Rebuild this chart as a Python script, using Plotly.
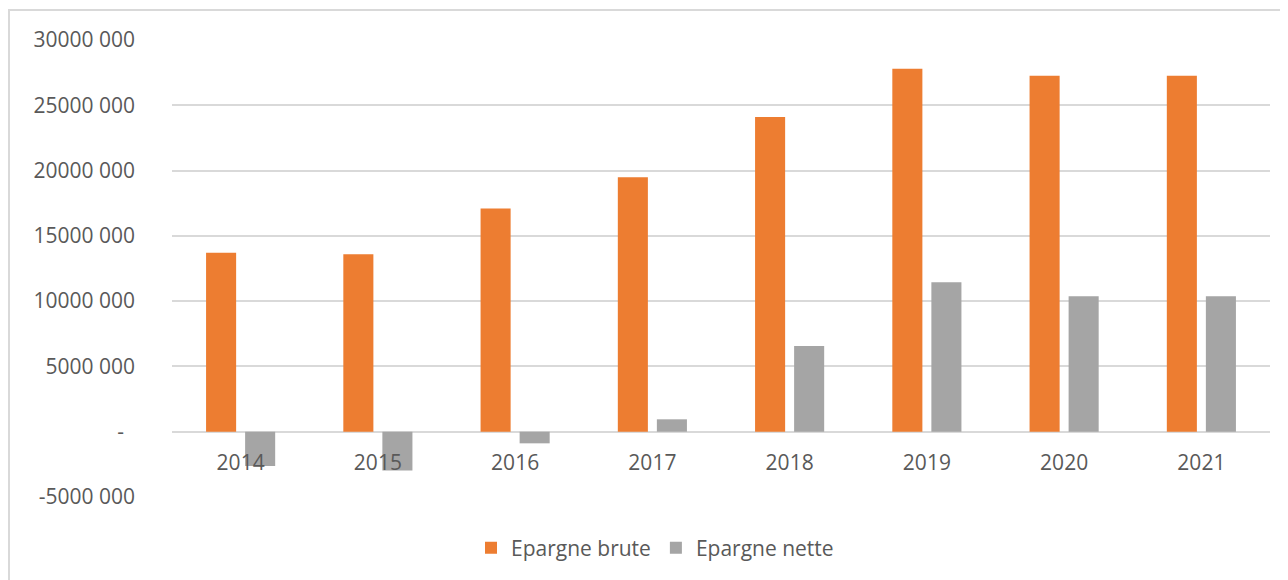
import plotly.graph_objects as go

years = ["2014", "2015", "2016", "2017", "2018", "2019", "2020", "2021"]
epargne_brute = [13710000, 13600000, 17100000, 19480000, 24100000, 27800000, 27270000, 27270000]
epargne_nette = [-2630000, -2970000, -890000, 950000, 6560000, 11450000, 10380000, 10380000]

y_min, y_max, y_step = -5000000, 30000000, 5000000
tick_vals = list(range(y_min, y_max + 1, y_step))


def fmt(v):
    if v == 0:
        return "-\u00a0\u00a0"
    s = str(abs(v))
    txt = s[:-3] + " " + s[-3:]
    return ("-" if v < 0 else "") + txt


tick_text = [fmt(v) for v in tick_vals]

orange = "#ED7D31"
grey = "#A5A5A5"
text_col = "#595959"
grid_col = "#D9D9D9"
FONT = "Open Sans"

fig = go.Figure()
fig.add_trace(go.Bar(name="Epargne brute", x=years, y=epargne_brute,
                     marker=dict(color=orange, line=dict(width=0))))
fig.add_trace(go.Bar(name="Epargne nette", x=years, y=epargne_nette,
                     marker=dict(color=grey, line=dict(width=0))))

# the page body adds an 8px offset; layout is expressed in figure pixels
W, H = 1288, 580
ml, mt = 164, 32
pw, ph = 1098, 457
mr, mb = W - ml - pw, H - mt - ph

fig.update_layout(
    width=W, height=H,
    margin=dict(l=ml, r=mr, t=mt, b=mb, pad=0),
    paper_bgcolor="white", plot_bgcolor="white",
    barmode="group", bargap=0.431, bargroupgap=0.23,
    font=dict(family=FONT, color=text_col, size=21),
    showlegend=True,
    legend=dict(orientation="h", x=(647 - ml) / pw, xanchor="center",
                y=-(540 - (mt + ph)) / ph, yanchor="middle",
                font=dict(size=21, color=text_col, family=FONT),
                itemwidth=30, traceorder="normal", bgcolor="rgba(0,0,0,0)"),
    xaxis=dict(
        type="category", showgrid=False, zeroline=False, showline=False,
        anchor="free", position=(0 - y_min) / (y_max - y_min),
        ticks="outside", ticklen=12, tickcolor="rgba(0,0,0,0)",
        tickfont=dict(size=21, color=text_col, family=FONT),
    ),
    yaxis=dict(
        range=[y_min, y_max], tickvals=tick_vals, ticktext=tick_text,
        showgrid=True, gridcolor=grid_col, gridwidth=1.5,
        zeroline=True, zerolinecolor=grid_col, zerolinewidth=1.5,
        showline=False, ticks="", ticklabelstandoff=36,
        tickfont=dict(size=21, color=text_col, family=FONT),
    ),
    shapes=[dict(type="rect", xref="paper", yref="paper",
                 x0=(1 - ml) / pw, x1=(W + 10 - ml) / pw,
                 y0=-(H + 10 - (mt + ph)) / ph, y1=1 + (mt - 2) / ph,
                 line=dict(color=grid_col, width=2), fillcolor="rgba(0,0,0,0)",
                 layer="below")],
)

fig.write_html("out.html")
